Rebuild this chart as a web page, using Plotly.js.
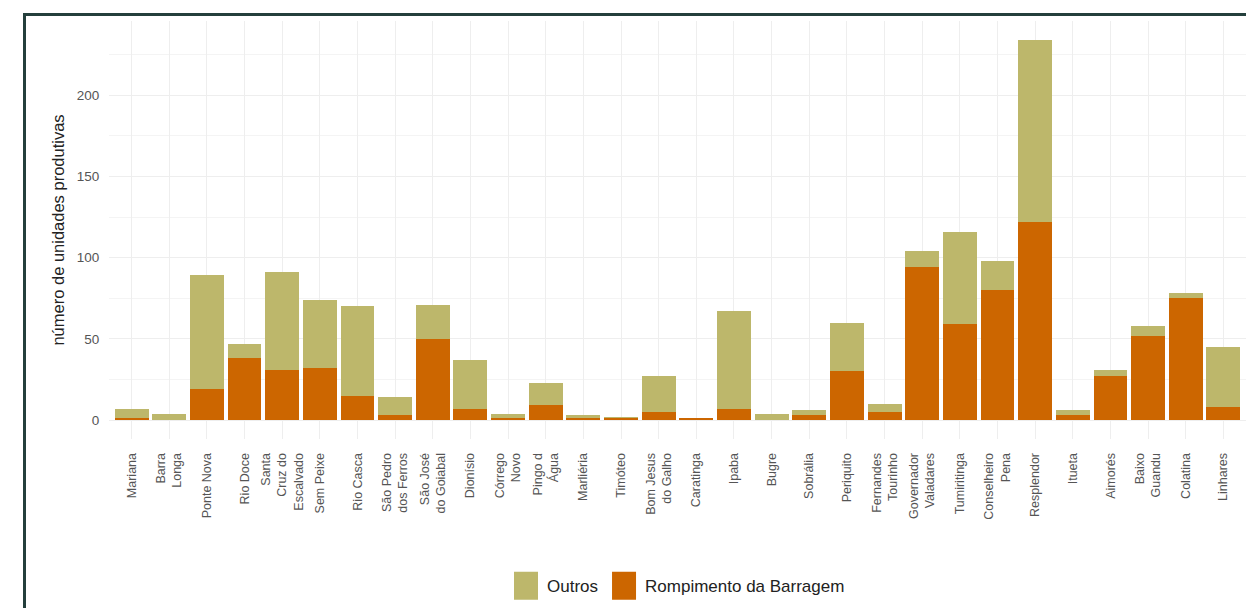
<!DOCTYPE html>
<html>
<head>
<meta charset="utf-8">
<script src="https://cdn.plot.ly/plotly-3.0.1.min.js"></script>
<style>
  html, body { margin: 0; padding: 0; background: #ffffff; }
  #wrap { position: relative; width: 1246px; height: 608px; overflow: hidden; }
  #chart { position: absolute; left: 0; top: 0; width: 1246px; height: 608px; }
  #frame { position: absolute; left: 23px; top: 13px; right: -10px; bottom: -10px;
           border-left: 3px solid #243f3c; border-top: 3px solid #243f3c; pointer-events: none; }
</style>
</head>
<body>
<div id="wrap">
  <div id="chart"></div>
  <div id="frame"></div>
</div>
<script>
const categories = [
  "Mariana", "Barra<br>Longa", "Ponte Nova", "Rio Doce", "Santa<br>Cruz do<br>Escalvado",
  "Sem Peixe", "Rio Casca", "São Pedro<br>dos Ferros", "São José<br>do Goiabal", "Dionísio",
  "Córrego<br>Novo", "Pingo d<br>Água", "Marliéria", "Timóteo", "Bom Jesus<br>do Galho",
  "Caratinga", "Ipaba", "Bugre", "Sobrália", "Periquito",
  "Fernandes<br>Tourinho", "Governador<br>Valadares", "Tumiritinga", "Conselheiro<br>Pena", "Resplendor",
  "Itueta", "Aimorés", "Baixo<br>Guandu", "Colatina", "Linhares"
];
const rompimento = [1, 0, 19, 38, 31, 32, 15, 3, 50, 7, 1, 9, 1, 1, 5, 1, 7, 0, 3, 30, 5, 94, 59, 80, 122, 3, 27, 52, 75, 8];
const outros     = [6, 4, 70, 9, 60, 42, 55, 11, 21, 30, 3, 14, 2, 1, 22, 0, 60, 4, 3, 30, 5, 10, 57, 18, 112, 3, 4, 6, 3, 37];
const yTicks = [0, 50, 100, 150, 200];
const seriesNames = ["Rompimento da Barragem", "Outros"];
const seriesColors = ["#cc6600", "#bdb76b"];

const traces = [
  { type: "bar", name: seriesNames[0], x: categories, y: rompimento, width: 0.9,
    marker: { color: seriesColors[0], line: { width: 0 } }, hoverinfo: "skip" },
  { type: "bar", name: seriesNames[1], x: categories, y: outros, width: 0.9,
    marker: { color: seriesColors[1], line: { width: 0 } }, hoverinfo: "skip" }
];

const layout = {
  width: 1246, height: 608,
  margin: { l: 109, r: 0, t: 21, b: 169 },
  paper_bgcolor: "rgba(0,0,0,0)", plot_bgcolor: "#ffffff",
  barmode: "stack",
  font: { family: "Liberation Sans, Arial, sans-serif", color: "#4d4d4d" },
  xaxis: {
    type: "category", range: [-0.6, 29.6], tickangle: -90,
    showgrid: true, gridcolor: "#eeeeee", gridwidth: 1,
    showline: false, zeroline: false,
    ticks: "outside", ticklen: 8, tickcolor: "rgba(0,0,0,0)",
    tickfont: { size: 12.5, color: "#555555" }, automargin: false, fixedrange: true
  },
  yaxis: {
    range: [-11.7, 245.7], tickvals: yTicks, ticktext: yTicks.map(String),
    showgrid: true, gridcolor: "#eeeeee", gridwidth: 1,
    minor: { dtick: 25, tick0: 0, showgrid: true, gridcolor: "#f4f4f4", gridwidth: 1 },
    zeroline: false, showline: false,
    ticks: "outside", ticklen: 6, tickcolor: "rgba(0,0,0,0)",
    tickfont: { size: 13.5, color: "#555555" },
    title: { text: "número de unidades produtivas", font: { size: 16.5, color: "#222222" }, standoff: 7 },
    automargin: false, fixedrange: true
  },
  showlegend: true,
  legend: {
    orientation: "h", traceorder: "reversed",
    x: 0.5, xanchor: "center", y: -0.352, yanchor: "middle",
    font: { size: 17, color: "#222222" }, itemwidth: 32
  }
};

Plotly.newPlot("chart", traces, layout, { displayModeBar: false, staticPlot: true }).then(function (gd) {
  // ggplot-style legend keys: larger, taller rectangles
  gd.querySelectorAll(".legend .legendpoints path").forEach(function (p) {
    p.setAttribute("d", "M12,14H-12V-14H12Z");
  });
});
</script>
</body>
</html>
